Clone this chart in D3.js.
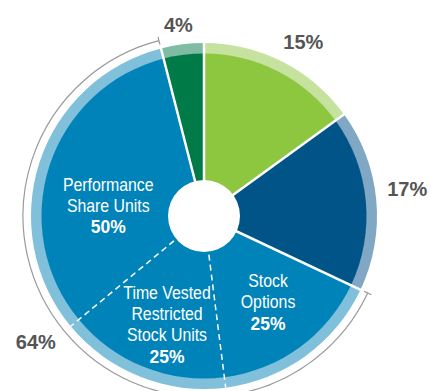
<!DOCTYPE html>
<html>
<head>
<meta charset="utf-8">
<script src="https://cdn.jsdelivr.net/npm/d3@7"></script>
<style>
  html, body { margin: 0; padding: 0; background: #fff; }
  svg { display: block; }
</style>
</head>
<body>
<svg id="chart" width="431" height="391"></svg>
<script>
// ---- data ----
const segmentNames = ["Segment 15", "Segment 17", "Long-term equity", "Segment 4"];
const segmentValues = [15, 17, 64, 4];
const segmentLabels = ["15%", "17%", "64%", "4%"];
const segmentColors = ["#8dc63f", "#005487", "#0083b9", "#007a47"];
const bandColors = ["#c6e29f", "#80a7c3", "#80c0db", "#80bca3"];

// sub-split of the 64% segment (share of that segment)
const subNames = [["Stock", "Options"], ["Time Vested", "Restricted", "Stock Units"], ["Performance", "Share Units"]];
const subValues = [25, 25, 50];
const subLabels = ["25%", "25%", "50%"];

// ---- layout ----
const cx = 204, cy = 216;
const rInner = 162, rBand = 173, rHole = 36, rBracket = 181;
const svg = d3.select("#chart");
const g = svg.append("g").attr("transform", `translate(${cx},${cy})`);

const pie = d3.pie().sort(null).value(d => d)(segmentValues);

const bandArc = d3.arc().innerRadius(rInner).outerRadius(rBand);
const mainArc = d3.arc().innerRadius(0).outerRadius(rInner + 0.5);

g.selectAll("path.band").data(pie).join("path")
  .attr("class", "band").attr("d", bandArc).attr("fill", (d, i) => bandColors[i]);
g.selectAll("path.main").data(pie).join("path")
  .attr("class", "main").attr("d", mainArc).attr("fill", (d, i) => segmentColors[i]);

const pt = (a, r) => [r * Math.sin(a), -r * Math.cos(a)];

// white separators between segments
pie.forEach(d => {
  const [x2, y2] = pt(d.startAngle, rBand + 2);
  g.append("line").attr("x1", 0).attr("y1", 0).attr("x2", x2).attr("y2", y2)
    .attr("stroke", "#fff").attr("stroke-width", 2.5);
});

// sub-division dashed lines inside the 64% segment
const big = pie[2];
const subScale = d3.scaleLinear().domain([0, d3.sum(subValues)]).range([big.startAngle, big.endAngle]);
let acc = 0;
const subAngles = subValues.map(v => { const s = acc; acc += v; return [subScale(s), subScale(acc)]; });
subAngles.slice(0, -1).forEach(([, a]) => {
  const [x1, y1] = pt(a, rHole + 3);
  const [x2, y2] = pt(a, rBand);
  g.append("line").attr("x1", x1).attr("y1", y1).attr("x2", x2).attr("y2", y2)
    .attr("stroke", "#fff").attr("stroke-width", 1.5).attr("stroke-dasharray", "6,4");
});

// center hole
g.append("circle").attr("r", rHole).attr("fill", "#fff");

// bracket around the 64% segment
const bracket = d3.arc().innerRadius(rBracket).outerRadius(rBracket)
  .startAngle(big.startAngle).endAngle(big.endAngle);
g.append("path").attr("d", bracket()).attr("fill", "none").attr("stroke", "#9a9a9a").attr("stroke-width", 1.2);
[big.startAngle, big.endAngle].forEach(a => {
  const [x1, y1] = pt(a, rBracket - 4);
  const [x2, y2] = pt(a, rBracket + 4);
  g.append("line").attr("x1", x1).attr("y1", y1).attr("x2", x2).attr("y2", y2)
    .attr("stroke", "#9a9a9a").attr("stroke-width", 1.2);
});

// outer percentage labels (polar anchor: angle, radius)
const outerPos = [[0.52, 200], [1.438, 205], [4.07, 210], [6.15, 193]];
pie.forEach((d, i) => {
  const [x, y] = pt(outerPos[i][0], outerPos[i][1]);
  g.append("text").attr("x", x).attr("y", y + 7)
    .attr("text-anchor", "middle")
    .attr("font-family", "Liberation Sans, Arial, sans-serif")
    .attr("font-weight", "bold").attr("font-size", 20)
    .attr("fill", "#555").text(segmentLabels[i]);
});

// inner sub-segment labels (polar anchor of text block centre)
const subPos = [[2.536, 112.5], [3.453, 120.7], [4.754, 95.8]];
const lineH = 21.2;
subNames.forEach((lines, i) => {
  const [x, y] = pt(subPos[i][0], subPos[i][1]);
  const n = lines.length + 1;
  const top = y - (n - 1) * lineH / 2;
  const tg = g.append("g").attr("transform", `translate(${x},${top})`);
  lines.forEach((t, j) => {
    tg.append("text").attr("x", 0).attr("y", j * lineH)
      .attr("transform", `scale(0.88,1)`)
      .attr("text-anchor", "middle")
      .attr("font-family", "Liberation Sans, Arial, sans-serif")
      .attr("font-size", 18).attr("fill", "#fff").text(t);
  });
  tg.append("text").attr("x", 0).attr("y", lines.length * lineH)
    .attr("text-anchor", "middle")
    .attr("font-family", "Liberation Sans, Arial, sans-serif")
    .attr("font-weight", "bold").attr("font-size", 17.5).attr("fill", "#fff").text(subLabels[i]);
});
</script>
</body>
</html>
